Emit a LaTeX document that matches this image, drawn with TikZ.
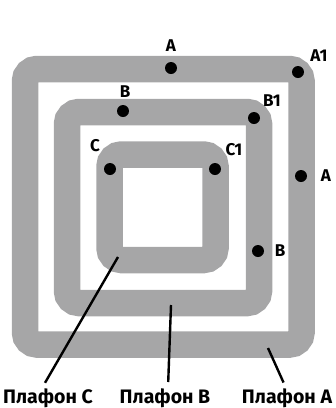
\documentclass[tikz,border=0pt]{standalone}
\usepackage{fontspec}
\setmainfont{Fira Sans}
\definecolor{plafongray}{RGB}{166,166,167}
\tikzset{
  band/.style={draw=plafongray,line width=26.5pt,rounded corners=12pt},
  dot/.style={circle,fill=black,inner sep=0pt,minimum size=12pt},
  pt/.style={font=\bfseries\fontsize{17}{17}\selectfont,inner sep=0pt},
  plafon/.style={font=\bfseries\fontsize{19.5}{20}\selectfont,anchor=base,inner sep=0pt},
  leader/.style={line width=2.4pt,shorten >=6pt}
}
\begin{document}
\begin{tikzpicture}[x=1pt,y=-1pt]
\useasboundingbox (0,0) rectangle (336,408);
% three ceiling bands
\foreach \n/\xa/\ya/\xb/\yb in {A/25/69/301.5/344.5,B/67/112/259/303,C/109.5/154.5/215.5/260}
  \draw[band] (\xa,\ya) rectangle (\xb,\yb);
% points on the bands
\foreach \n/\x/\y in {A/171/68,Aa/298/72,Ab/301/176,B/123/111,Ba/254/118,Bb/258/251,C/110/169,Ca/215/169}
  \node[dot] (p\n) at (\x,\y) {};
\node[pt] (tA) at (171,46) {A};
\node[pt] (tAa) at (319,56) {A1};
\node[pt] (tAb) at (326,176) {A};
\node[pt] (tB) at (125,92) {B};
\node[pt] (tBa) at (272,101) {B1};
\node[pt] (tBb) at (280,251) {B};
\node[pt] (tC) at (95,146) {C};
\node[pt] (tCa) at (234,150) {C1};
% labels below
\node[plafon] (lC) at (48,403) {Плафон C};
\node[plafon] (lB) at (165,403) {Плафон B};
\node[plafon] (lA) at (287,403) {Плафон A};
\coordinate (cC) at (118,257);
\coordinate (cB) at (171,305);
\coordinate (cA) at (268,348);
\draw[leader] (cC) -- ([xshift=-6pt]lC.north);
\draw[leader] (cB) -- ([xshift=3pt]lB.north);
\draw[leader] (cA) -- ([xshift=-1pt]lA.north);
\end{tikzpicture}
\end{document}
